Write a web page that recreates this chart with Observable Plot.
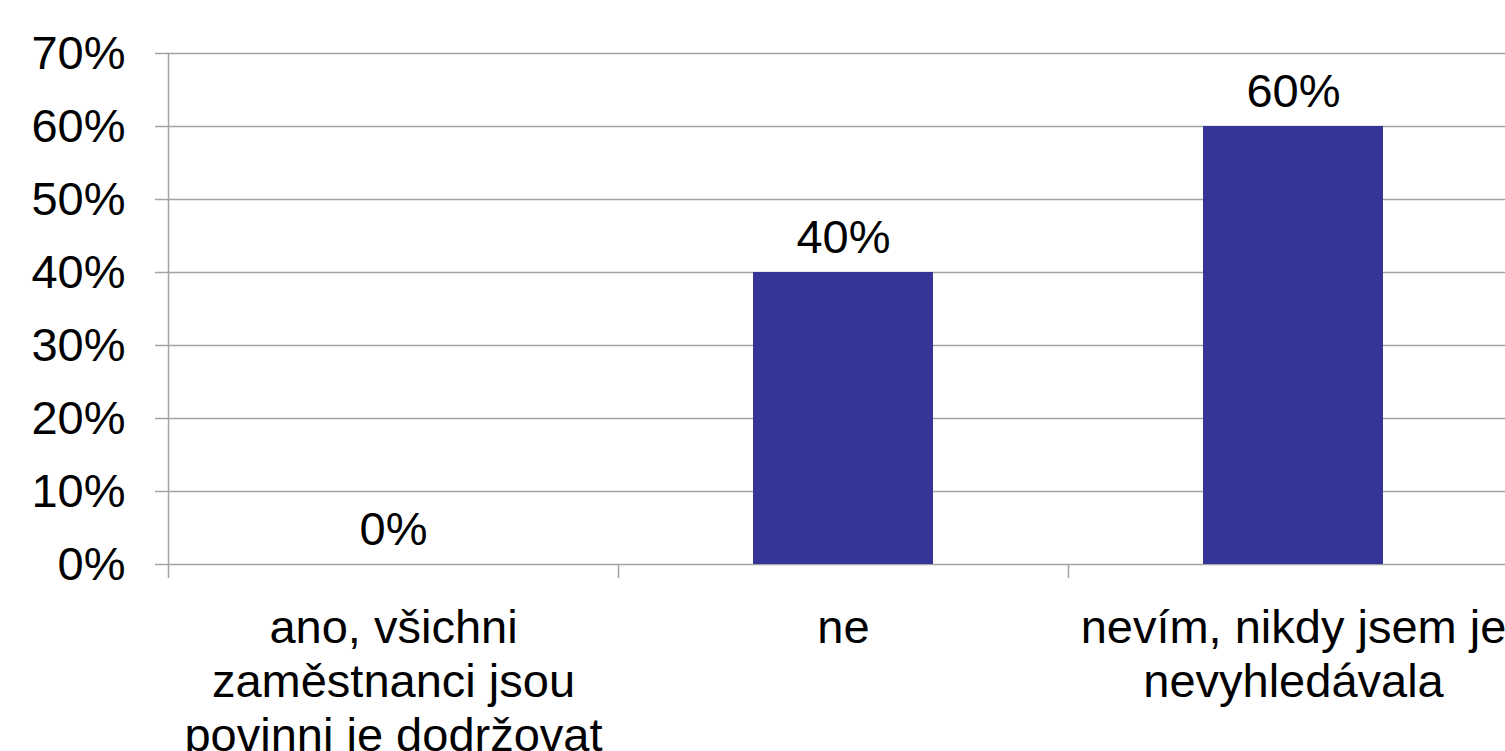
<!DOCTYPE html>
<html>
<head>
<meta charset="utf-8">
<script src="https://cdn.jsdelivr.net/npm/d3@7"></script>
<script src="https://cdn.jsdelivr.net/npm/@observablehq/plot@0.6"></script>
<style>
  html, body { margin: 0; padding: 0; background: #ffffff; }
  #chart svg { display: block; }
</style>
</head>
<body>
<div id="chart"></div>
<script>
const categories = [
  "ano, všichni zaměstnanci jsou povinni je dodržovat",
  "ne",
  "nevím, nikdy jsem je nevyhledávala"
];
const categoryLabels = [
  "ano, všichni\nzaměstnanci jsou\npovinni je dodržovat",
  "ne",
  "nevím, nikdy jsem je\nnevyhledávala"
];
const values = [0, 0.40, 0.60];
const yTicks = [0, 0.1, 0.2, 0.3, 0.4, 0.5, 0.6, 0.7];

const data = categories.map((c, i) => ({category: c, label: categoryLabels[i], value: values[i]}));

const gray = "#a3a3a3";
const barColor = "#353597";
const fmt = d3.format(".0%");

const chart = Plot.plot({
  width: 1505,
  height: 751,
  marginTop: 53,
  marginBottom: 187,
  marginLeft: 168,
  marginRight: 0,
  style: {fontFamily: "'Liberation Sans', Arial, sans-serif", background: "#ffffff", color: "#000000"},
  x: {domain: categories, range: [168, 1518], paddingInner: 0.6, paddingOuter: 0.3, align: 0.5},
  y: {domain: [0, 0.7]},
  marks: [
    Plot.gridY(yTicks, {stroke: gray, strokeOpacity: 1, strokeWidth: 1.5}),
    Plot.axisY(yTicks, {tickSize: 13, tickPadding: 30, tickFormat: fmt, fontSize: 47, stroke: gray, strokeWidth: 1.5, fill: "#000", label: null}),
    Plot.frame({anchor: "left", stroke: gray, strokeWidth: 1.5}),
    Plot.axisX({tickSize: 14, tickFormat: () => "", dx: -225, stroke: gray, strokeWidth: 1.5, label: null}),
    Plot.barY(data, {x: "category", y: "value", fill: barColor}),
    Plot.text(data, {x: "category", y: "value", text: d => fmt(d.value), lineAnchor: "bottom", dy: -20, fontSize: 47, fill: "#000"}),
    Plot.text(data, {x: "category", y: 0, text: "label", lineAnchor: "top", dy: 40, fontSize: 47, lineHeight: 1.15, fill: "#000"})
  ]
});
document.getElementById("chart").appendChild(chart);
</script>
</body>
</html>
